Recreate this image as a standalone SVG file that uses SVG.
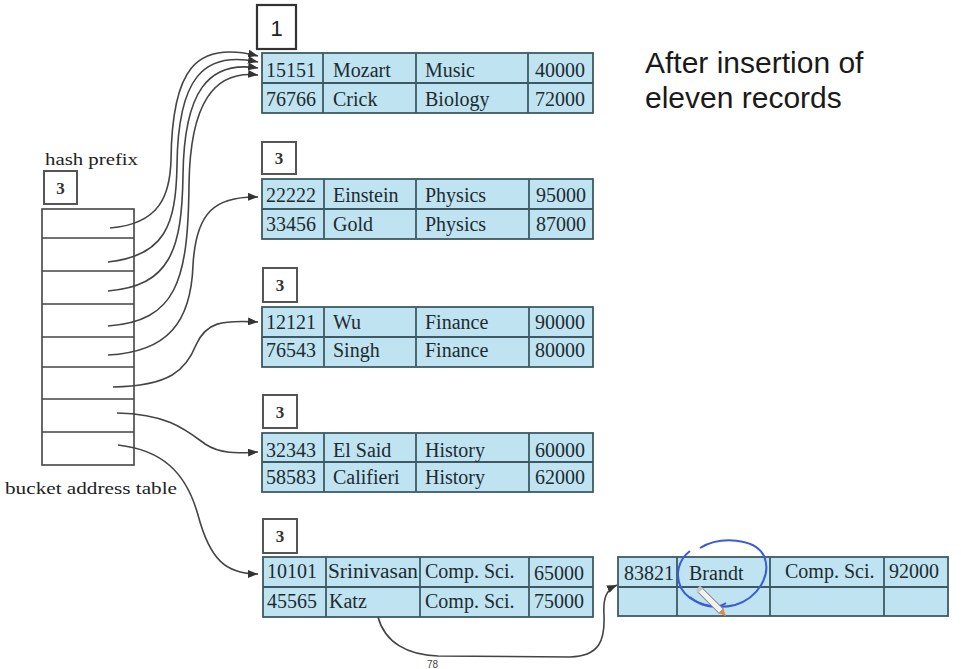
<svg xmlns="http://www.w3.org/2000/svg" width="961" height="669" viewBox="0 0 961 669">
<defs>
<marker id="ah" markerUnits="userSpaceOnUse" markerWidth="11" markerHeight="8" refX="10" refY="4" orient="auto">
<path d="M0,0 L10,4 L0,8 z" fill="#333"/>
</marker>
<style>
.tbl{fill:#bfe3f0;stroke:#3d5a64;stroke-width:1.8}
.ln{stroke:#3d5a64;stroke-width:1.8;fill:none}
.cell{font-family:"Liberation Serif",serif;font-size:20px;fill:#1d2b30}
.lbl{font-family:"Liberation Serif",serif;font-size:17px;fill:#222}
.box{fill:#fff;stroke:#555;stroke-width:2}
.boxt{font-family:"Liberation Serif",serif;font-size:17px;font-weight:bold;fill:#333;text-anchor:middle}
.bat{fill:#fff;stroke:#444;stroke-width:1.6}
.con{fill:none;stroke:#444;stroke-width:1.6}
.title{font-family:"Liberation Sans",Arial,sans-serif;font-size:30px;fill:#1a1a1a}
</style>
</defs>
<rect width="961" height="669" fill="#fff"/>

<g id="title">
<text class="title" x="645" y="73">After insertion of</text>
<text class="title" x="645" y="108">eleven records</text>
</g>

<g id="bucket-address-table">
<text class="lbl" x="45" y="165" textLength="93" lengthAdjust="spacingAndGlyphs">hash prefix</text>
<rect class="box" x="44" y="171" width="33" height="33"/>
<text class="boxt" x="60.5" y="194">3</text>
<rect class="bat" x="42" y="209" width="92" height="256"/>
<path class="bat" d="M42,238 H134 M42,271 H134 M42,304 H134 M42,337 H134 M42,367 H134 M42,399 H134 M42,432 H134"/>
<text class="lbl" x="5" y="494" textLength="172" lengthAdjust="spacingAndGlyphs">bucket address table</text>
</g>

<g id="bucket1">
<rect x="257" y="5" width="39" height="44" fill="#fff" stroke="#333" stroke-width="2.2"/>
<text x="276.5" y="36" font-family="Liberation Sans, Arial, sans-serif" font-size="22" fill="#222" text-anchor="middle">1</text>
<rect class="tbl" x="262" y="53" width="331" height="60"/>
<path class="ln" d="M262,83 H593 M323,53 V113 M416,53 V113 M528,53 V113"/>
<text class="cell" x="266" y="77">15151</text><text class="cell" x="333" y="77">Mozart</text><text class="cell" x="425" y="77">Music</text><text class="cell" x="535" y="77">40000</text>
<text class="cell" x="266" y="106">76766</text><text class="cell" x="333" y="106">Crick</text><text class="cell" x="425" y="106">Biology</text><text class="cell" x="535" y="106">72000</text>
</g>

<g id="bucket2">
<rect class="box" x="262" y="142" width="34" height="32"/>
<text class="boxt" x="279" y="164">3</text>
<rect class="tbl" x="262" y="179" width="331" height="60"/>
<path class="ln" d="M262,209 H593 M324,179 V239 M416,179 V239 M529,179 V239"/>
<text class="cell" x="266" y="202">22222</text><text class="cell" x="333" y="202">Einstein</text><text class="cell" x="425" y="202">Physics</text><text class="cell" x="536" y="202">95000</text>
<text class="cell" x="266" y="231">33456</text><text class="cell" x="333" y="231">Gold</text><text class="cell" x="425" y="231">Physics</text><text class="cell" x="536" y="231">87000</text>
</g>

<g id="bucket3">
<rect class="box" x="263" y="268" width="34" height="34"/>
<text class="boxt" x="280" y="291">3</text>
<rect class="tbl" x="262" y="307" width="331" height="60"/>
<path class="ln" d="M262,337 H593 M324,307 V367 M416,307 V367 M529,307 V367"/>
<text class="cell" x="266" y="329">12121</text><text class="cell" x="333" y="329">Wu</text><text class="cell" x="425" y="329">Finance</text><text class="cell" x="535" y="329">90000</text>
<text class="cell" x="266" y="357">76543</text><text class="cell" x="333" y="357">Singh</text><text class="cell" x="425" y="357">Finance</text><text class="cell" x="535" y="357">80000</text>
</g>

<g id="bucket4">
<rect class="box" x="263" y="395" width="34" height="33"/>
<text class="boxt" x="280" y="418">3</text>
<rect class="tbl" x="262" y="433" width="331" height="59"/>
<path class="ln" d="M262,462 H593 M324,433 V492 M416,433 V492 M529,433 V492"/>
<text class="cell" x="266" y="457">32343</text><text class="cell" x="333" y="457">El Said</text><text class="cell" x="425" y="457">History</text><text class="cell" x="535" y="457">60000</text>
<text class="cell" x="266" y="484">58583</text><text class="cell" x="333" y="484">Califieri</text><text class="cell" x="425" y="484">History</text><text class="cell" x="535" y="484">62000</text>
</g>

<g id="bucket5">
<rect class="box" x="263" y="519" width="34" height="34"/>
<text class="boxt" x="280" y="542">3</text>
<rect class="tbl" x="263" y="557" width="330" height="60"/>
<path class="ln" d="M263,587 H593 M326,557 V617 M420,557 V617 M529,557 V617"/>
<text class="cell" x="267" y="578">10101</text><text class="cell" x="328" y="578" textLength="90" lengthAdjust="spacingAndGlyphs">Srinivasan</text><text class="cell" x="425" y="578">Comp. Sci.</text><text class="cell" x="534" y="580">65000</text>
<text class="cell" x="267" y="608">45565</text><text class="cell" x="329" y="608">Katz</text><text class="cell" x="425" y="608">Comp. Sci.</text><text class="cell" x="534" y="608">75000</text>
</g>

<g id="overflow-bucket">
<rect class="tbl" x="618" y="557" width="330" height="59"/>
<path class="ln" d="M618,587 H948 M677,557 V616 M770,557 V616 M884,557 V616"/>
<text class="cell" x="624" y="580">83821</text><text class="cell" x="689" y="580">Brandt</text><text class="cell" x="785" y="578">Comp. Sci.</text><text class="cell" x="889" y="578">92000</text>
</g>

<g id="connectors">
<path class="con" marker-end="url(#ah)" d="M110,228 C160,224 170,195 171,160 C172,70 195,40 258,56"/>
<path class="con" marker-end="url(#ah)" d="M108,262 C165,256 176,225 177,165 C178,80 202,50 258,62"/>
<path class="con" marker-end="url(#ah)" d="M108,291 C170,286 182,250 183,175 C184,92 208,60 258,68"/>
<path class="con" marker-end="url(#ah)" d="M108,326 C176,321 188,282 189,185 C190,103 214,70 258,75"/>
<path class="con" marker-end="url(#ah)" d="M108,355 C168,352 191,322 193,265 C196,212 215,196 258,197"/>
<path class="con" marker-end="url(#ah)" d="M113,387 C170,386 186,370 196,345 C206,322 222,320 258,322"/>
<path class="con" marker-end="url(#ah)" d="M117,413 C168,414 186,430 205,444 C222,455 240,453 258,452"/>
<path class="con" marker-end="url(#ah)" d="M118,445 C162,450 186,472 198,515 C210,560 226,574 258,574"/>
<path class="con" marker-end="url(#ah)" d="M378,617 C385,643 408,655 438,656 L570,657 C600,656 605,640 604,615 C603,598 606,590 617,585"/>
</g>

<g id="annotation">
<path d="M700,548 C720,536 755,538 764,556 C772,575 758,598 735,605 C715,610 690,604 681,588 C675,575 678,560 690,551" fill="none" stroke="#3b5bd9" stroke-width="2"/>
<path d="M690,597 C700,606 716,610 726,603" fill="none" stroke="#3b5bd9" stroke-width="2"/>
<g transform="translate(700,590) rotate(45)">
<rect x="0" y="-3" width="30" height="6" fill="#f2f2f2" stroke="#888" stroke-width="1"/>
<path d="M30,-3 L37,0 L30,3 z" fill="#e08a3c"/>
<rect x="-3" y="-3" width="4" height="6" fill="#c8c8c8"/>
</g>
<text x="427" y="668" font-family="Liberation Sans, Arial, sans-serif" font-size="10" fill="#444">78</text>
</g>
</svg>
